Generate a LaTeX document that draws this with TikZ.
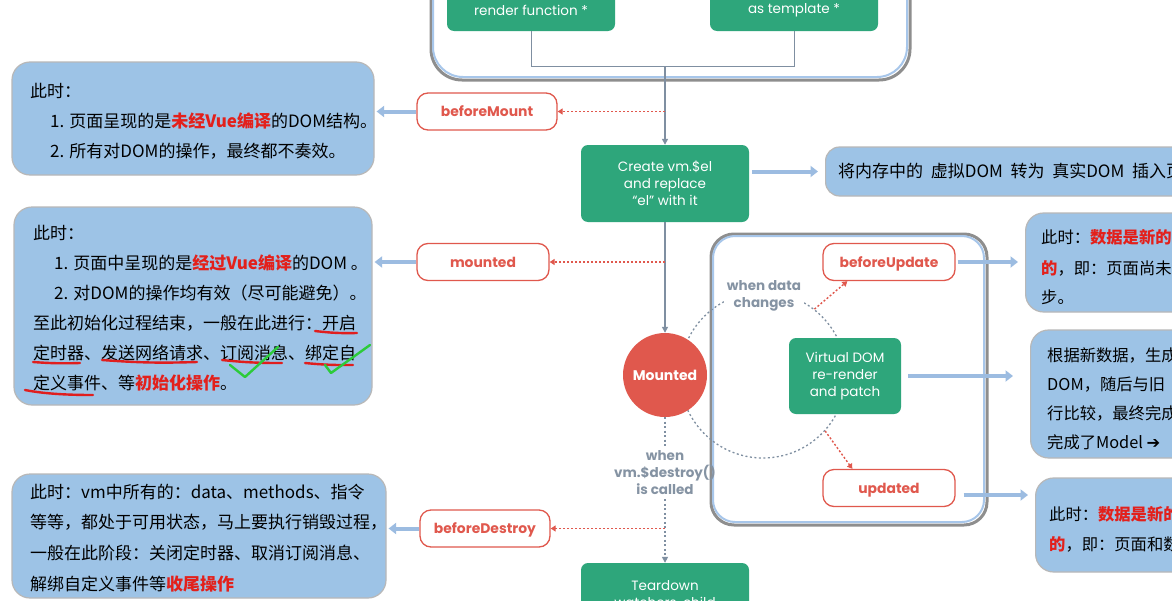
\documentclass[tikz,border=0pt]{standalone}
\usepackage{fontspec}
\newfontfamily\cjk{Noto Sans CJK SC}
\newfontfamily\pop{Poppins}
\newfontfamily\dej{DejaVu Sans}
\usetikzlibrary{arrows.meta}
\definecolor{vgreen}{HTML}{2EA67B}
\definecolor{vred}{HTML}{E0584D}
\definecolor{notefill}{HTML}{9DC3E6}
\definecolor{hlred}{HTML}{E3201B}
\definecolor{graytxt}{HTML}{8593A3}
\definecolor{cgray}{HTML}{7F8FA1}
\definecolor{barrow}{HTML}{9CBCE1}
\definecolor{frameblue}{HTML}{A7C6EA}
\definecolor{shadowgray}{HTML}{8E8E8E}
\definecolor{penred}{HTML}{E01E1E}
\definecolor{pengreen}{HTML}{2CCB3A}
\newcommand\hlr[1]{{\color{hlred}\bfseries #1}}
\begin{document}
\begin{tikzpicture}[x=1pt,y=-1pt,
 gbox/.style={fill=vgreen, rounded corners=7pt, text=white, font=\pop\fontsize{13.5}{17}\selectfont, align=center, inner sep=0pt},
 gtext/.style={text=white, font=\pop\fontsize{13.5}{17}\selectfont, align=center, inner sep=0pt},
 lbl/.style={draw=vred, line width=1.3pt, fill=white, rounded corners=11pt, text=vred, font=\pop\bfseries\fontsize{13.9}{15}\selectfont, minimum height=37pt, inner sep=0pt, text height=10pt, text depth=0pt},
 mcirc/.style={circle, fill=vred, text=white, font=\pop\bfseries\fontsize{14}{15}\selectfont, minimum size=84pt, inner sep=0pt},
 note/.style={fill=notefill, draw=black!28, line width=1.2pt, rounded corners=18pt, inner sep=0pt},
 ntext/.style={anchor=west, inner sep=0pt, font=\cjk\fontsize{17}{20}\selectfont, text height=15pt, text depth=2pt},
 rtext/.style={anchor=west, inner sep=0pt, font=\cjk\fontsize{16.3}{20}\selectfont, text height=14pt, text depth=2pt},
 glbl/.style={font=\pop\bfseries\fontsize{13.5}{17}\selectfont, text=graytxt, align=center, inner sep=4pt},
 conn/.style={draw=cgray, line width=1.3pt},
 ctip/.style={-{Triangle[width=6pt,length=6pt]}},
 gdash/.style={draw=cgray, line width=1.3pt, dash pattern=on 2pt off 2.5pt},
 reddot/.style={draw=vred, line width=1.4pt, dash pattern=on 2pt off 2pt, -{Triangle[width=6pt,length=5pt]}},
 barr/.style={draw=barrow, line width=4pt, -{Triangle[width=11pt,length=7.5pt]}},
 pen/.style={line width=2.4pt, line cap=round, line join=round},
]
\useasboundingbox (0,0) rectangle (1172,613);
\fill[white] (0,0) rectangle (1172,613);
\begin{scope}
\clip (0,0) rectangle (1172,600);
% frames
\draw[shadowgray, line width=3pt, rounded corners=31pt] (431,-40) rectangle (910,80);
\draw[frameblue, line width=2pt, rounded corners=30pt] (433,-40) rectangle (907,77);
\draw[shadowgray, line width=3pt, rounded corners=23pt] (711,234) rectangle (987,525);
\draw[frameblue, line width=2pt, rounded corners=22pt] (713,236) rectangle (984,522);
% dotted cycle
\node[circle, draw=cgray, line width=1.3pt, dash pattern=on 2pt off 2.5pt, minimum size=166pt, inner sep=0pt] (cyc) at (763,375) {};
\node[glbl, fill=white, inner sep=3pt] (wdc) at (764,296) {when data\\changes};
% green boxes
\node[gbox, minimum width=168pt, minimum height=42pt] (rf) at (531,10) {render function *};
\node[gbox, minimum width=168pt, minimum height=42pt] (tpl) at (794,10) {as template *};
\node[gbox, minimum width=168pt, minimum height=77pt] (cr) at (665,183.5) {Create vm.\$el\\and replace\\“el” with it};
\node[gbox, minimum width=112pt, minimum height=76pt] (vd) at (845,376) {Virtual DOM\\re-render\\and patch};
\node[gbox, minimum width=168pt, minimum height=78pt] (td) at (665,602) {};
\node[gtext, anchor=north] (tdt) at (665,580) {Teardown\\watchers, child};
\node[mcirc] (mc) at (665,375) {Mounted};
% labels
\node[lbl, minimum width=140pt] (bm) at (487,111.5) {beforeMount};
\node[lbl, minimum width=132pt] (mt) at (483,262) {mounted};
\node[lbl, minimum width=130pt] (bd) at (485,528.5) {beforeDestroy};
\node[lbl, minimum width=132pt] (bu) at (889,262) {beforeUpdate};
\node[lbl, minimum width=132pt] (up) at (889,488) {updated};
\node[glbl] (wdl) at (665,473) {when\\vm.\$destroy()\\is called};
% connectors
\coordinate (j) at (665,66);
\draw[conn, line width=1pt] (rf.south) -- ++(0,35) -| (tpl.south);
\draw[conn, ctip] (j) -- (cr.north);
\draw[conn, ctip] (cr.south) -- (mc.north);
\draw[gdash] (mc.south) -- (wdl.north);
\draw[gdash, ctip] (wdl.south) -- (td.north);
\coordinate (pbm) at (665,111.5);
\coordinate (pmt) at (665,262);
\coordinate (pbd) at (665,528.5);
\draw[reddot] (pbm) -- (bm.east);
\draw[reddot] (pmt) -- (mt.east);
\draw[reddot] (pbd) -- (bd.east);
\draw[reddot] (cyc.52) -- ([xshift=25pt]bu.south west);
\draw[reddot] (cyc.-42) -- ([xshift=30pt]up.north west);
% note boxes
\node[note, minimum width=362pt, minimum height=113pt] (b1) at (193,118.5) {};
\node[note, minimum width=358pt, minimum height=198pt] (b2) at (193,306) {};
\node[note, minimum width=374pt, minimum height=124pt] (b3) at (199,536) {};
\node[note, anchor=west, minimum width=400pt, minimum height=49pt, rounded corners=14pt] (trb) at (825,171.5) {};
\node[note, anchor=west, minimum width=250pt, minimum height=99pt] (rb1) at (1025,262.5) {};
\node[note, anchor=west, minimum width=250pt, minimum height=128pt] (rb2) at (1030,394) {};
\node[note, anchor=west, minimum width=250pt, minimum height=94pt] (rb3) at (1035,525) {};
% blue arrows
\draw[barr, shorten >=2pt] (bm.west) -- (bm.west -| b1.east);
\draw[barr, shorten >=2pt] (mt.west) -- (mt.west -| b2.east);
\draw[barr, shorten >=2pt] (bd.west) -- (bd.west -| b3.east);
\draw[barr, shorten <=3pt, shorten >=7pt] (cr.east |- trb.west) -- (trb.west);
\draw[barr, shorten <=2pt, shorten >=7pt] (bu.east) -- (bu.east -| rb1.west);
\draw[barr, shorten <=7pt, shorten >=17pt] (vd.east) -- (vd.east -| rb2.west);
\draw[barr, shorten <=8pt, shorten >=7pt] ([yshift=-7pt]up.east) -- ([yshift=-7pt]up.east -| rb3.west);
% texts box 1
\node[ntext] (t11) at (30,91) {此时：};
\node[ntext] (t12) at (50,121) {1. 页面呈现的是\hlr{未经Vue编译}的DOM结构。};
\node[ntext] (t13) at (50,151) {2. 所有对DOM的操作，最终都不奏效。};
% box 2
\node[ntext] (t21) at (33,233) {此时：};
\node[ntext] (t22) at (54,263) {1. 页面中呈现的是\hlr{经过Vue编译}的DOM 。};
\node[ntext] (t23) at (54,293) {2. 对DOM的操作均有效（尽可能避免）。};
\node[ntext] (t24) at (33,323) {至此初始化过程结束，一般在此进行：开启};
\node[ntext] (t25) at (33,353) {定时器、发送网络请求、订阅消息、绑定自};
\node[ntext] (t26) at (33,383) {定义事件、等\hlr{初始化操作}。};
% box 3
\node[ntext] (t31) at (30,492) {此时：vm中所有的：data、methods、指令};
\node[ntext] (t32) at (30,522) {等等，都处于可用状态，马上要执行销毁过程，};
\node[ntext] (t33) at (30,553) {一般在此阶段：关闭定时器、取消订阅消息、};
\node[ntext] (t34) at (30,584) {解绑自定义事件等\hlr{收尾操作}};
% right texts
\node[rtext, font=\cjk\fontsize{17}{20}\selectfont] (tr0) at (838,171.5) {将内存中的\hspace{0.45em}虚拟DOM\hspace{0.45em}转为\hspace{0.45em}真实DOM\hspace{0.45em}插入页面};
\node[rtext] (tr11) at (1041,237) {此时：\hlr{数据是新的}};
\node[rtext] (tr12) at (1041,268) {\hlr{的}，即：页面尚未};
\node[rtext] (tr13) at (1041,297) {步。};
\node[rtext] (tr21) at (1047,355) {根据新数据，生成};
\node[rtext] (tr22) at (1047,384) {DOM，随后与旧};
\node[rtext] (tr23) at (1047,413) {行比较，最终完成};
\node[rtext] (tr24) at (1047,442) {完成了Model {\dej ➔}};
\node[rtext] (tr31) at (1049,514) {此时：\hlr{数据是新的}};
\node[rtext] (tr32) at (1049,544) {\hlr{的}，即：页面和数};
% handwriting
\draw[pen, penred] (315,331) to[bend right=4] (357,333);
\draw[pen, penred] (33,362) to[bend right=3] (80,363);
\draw[pen, penred] (102,360) to[bend right=3] (197,362);
\draw[pen, penred] (222,360) to[bend right=3] (282,363);
\draw[pen, penred] (305,363) to[bend right=3] (353,365);
\draw[pen, penred] (25,390) .. controls (45,394) and (70,395) .. (93,395);
\draw[pen, pengreen] (230,365) -- (245,377) -- (278,347);
\draw[pen, pengreen] (325,365) -- (331,373) -- (370,345);
\end{scope}
\end{tikzpicture}
\end{document}
